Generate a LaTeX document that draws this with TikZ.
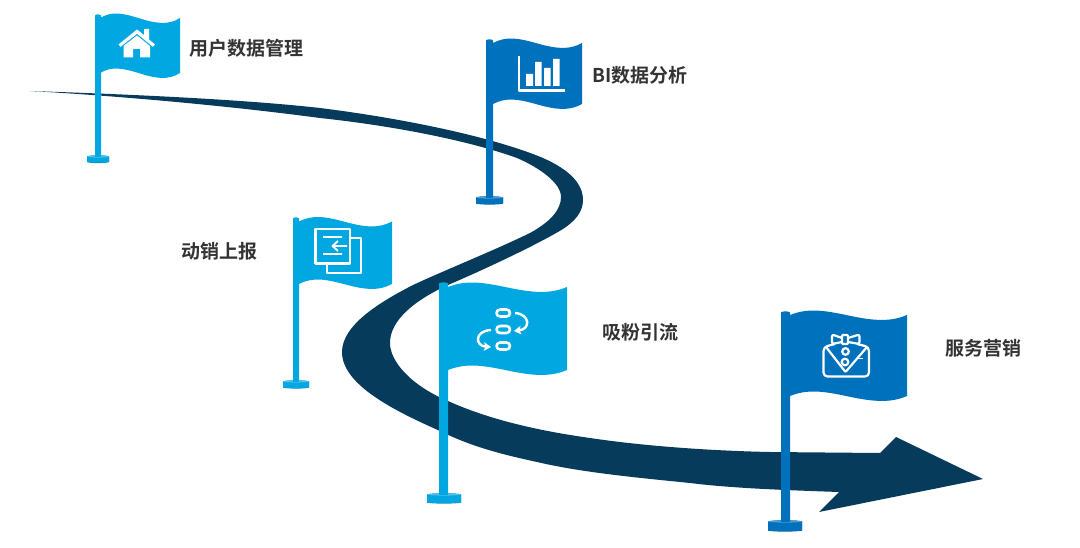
\documentclass[tikz,border=0pt]{standalone}
\usepackage{fontspec}
\setmainfont{Noto Sans CJK SC}[BoldFont={Noto Sans CJK SC Bold}]
\usetikzlibrary{arrows.meta}
\definecolor{road}{HTML}{073B5C}
\definecolor{lightblue}{HTML}{00A7E1}
\definecolor{darkblue}{HTML}{0071BC}
\definecolor{lab}{HTML}{333333}
\tikzset{
  lbl/.style={font=\fontsize{19}{19}\selectfont\bfseries,text=lab,inner sep=0pt,anchor=west},
  icon/.style={draw=white,line width=2.2pt,fill=none,line join=round},
  iconarrow/.style={draw=white,line width=2.4pt,-{Stealth[length=7pt,width=8.5pt,inset=1.5pt]}},
}
\newcommand{\flagbody}[5]{% x0,w,ytop,h,colour
  \begin{scope}[shift={(#1,#3)},xscale=#2/100]
    \fill[#5] (0,5) .. controls (15,-2) and (28,0) .. (50,5.5) .. controls (72,11) and (86,12) .. (100,5)
      -- (100,5+#4) .. controls (86,12+#4) and (72,11+#4) .. (50,5.5+#4) .. controls (28,0+#4) and (15,-2+#4) .. (0,5+#4) -- cycle;
  \end{scope}}
\newcommand{\flagpole}[8]{% xl,xr,ytop,ybot,basel,baser,colour,baseheight
  \fill[#7] (#1,#3+1.5) .. controls (#1,#3) and (#2,#3) .. (#2,#3+1.5) -- (#2,#4+1) -- (#1,#4+1) -- cycle;
  \fill[#7!85!black] (#5,#4+1.5) .. controls (#5+3,#4) and (#6-3,#4) .. (#6,#4+1.5) -- (#6,#4+#8-1.5) .. controls (#6-3,#4+#8) and (#5+3,#4+#8) .. (#5,#4+#8-1.5) -- cycle;
  \fill[#7] (#5,#4+1.5) .. controls (#5+3,#4) and (#6-3,#4) .. (#6,#4+1.5) -- (#6,#4+#8-1.5) .. controls (#6-3,#4+#8-1) and (#5+3,#4+#8-1) .. (#5,#4+#8-1.5) -- cycle;
  \fill[#7!70!white] (#5,#4+1.5) .. controls (#5+3,#4) and (#6-3,#4) .. (#6,#4+1.5) .. controls (#6-3,#4+3) and (#5+3,#4+3) .. (#5,#4+1.5) -- cycle;
  \fill[#7] (#1,#4-1) rectangle (#2,#4+2.3);}
\begin{document}
\begin{tikzpicture}[x=1pt,y=-1pt]
\useasboundingbox (0,0) rectangle (1080,548);
% road
\fill[road] (30,91)
  .. controls (120,94) and (240,99) .. (320,108)
  .. controls (400,118) and (490,136) .. (543,158)
  .. controls (570,170) and (583,184) .. (583,200)
  .. controls (583,212) and (575,221) .. (563,229)
  .. controls (540,243) and (490,267) .. (448,285)
  .. controls (415,300) and (390,320) .. (390,343)
  .. controls (390,361) and (410,385) .. (448,401)
  .. controls (490,420) and (540,431) .. (590,438)
  .. controls (650,447) and (720,451) .. (770,452)
  -- (880,453) -- (896,437) -- (983,479) -- (819,512) -- (839,492)
  .. controls (780,490) and (730,488) .. (690,483)
  .. controls (630,477) and (580,472) .. (537,462)
  .. controls (500,454) and (470,446) .. (440,431)
  .. controls (395,411) and (342,385) .. (342,352)
  .. controls (342,325) and (380,302) .. (413,285)
  .. controls (450,268) and (495,250) .. (530,233)
  .. controls (550,222) and (561,210) .. (561,197)
  .. controls (561,183) and (540,168) .. (517,158)
  .. controls (470,141) and (395,126) .. (320,118)
  .. controls (230,106) and (120,96) .. (30,91) -- cycle;
% flag 1
\flagbody{100}{80}{13}{55}{lightblue}
\flagpole{95}{101}{14}{155}{87}{109}{lightblue}{8.5}
\fill[white] (118.5,44.5) -- (137,29.5) -- (144,35) -- (144,29) -- (149,29) -- (149,39.5) -- (155,44.5) -- (153,46.8) -- (137,33.8) -- (120.5,46.8) -- cycle;
\fill[white] (123.5,46) -- (137,35.5) -- (150,46) -- (150,57.5) -- (140,57.5) -- (140,49) -- (133,49) -- (133,57.5) -- (123.5,57.5) -- cycle;
\node[lbl] (t1) at (189,48) {用户数据管理};
% flag 2
\flagbody{493}{89}{38}{61}{darkblue}
\flagpole{486}{493}{39}{196}{476}{503}{darkblue}{9}
\draw[icon] (519,56) -- (519,90.5) -- (565,90.5);
\fill[white] (526,74) rectangle (533,86) (535,62) rectangle (541.5,86) (544,68) rectangle (550.5,86) (553,59) rectangle (559.5,86);
\node[lbl] (t2) at (592,75) {BI数据分析};
% flag 3
\flagbody{299}{93}{216.5}{62.5}{lightblue}
\flagpole{293}{299}{217}{380}{283}{309}{lightblue}{9}
\draw[icon] (315.5,229) rectangle (350,263.5);
\draw[icon] (350,238) -- (361,238) -- (361,273) -- (327,273) -- (327,263.5);
\draw[icon,line width=1.9pt] (323,237) -- (342,237) (323,254) -- (342,254) (347,246) -- (333,246) (338,241) -- (332.5,246) -- (338,251);
\node[lbl] (t3) at (181,251) {动销上报};
% flag 4
\flagbody{448}{119}{282}{83}{lightblue}
\flagpole{439}{448}{282}{493}{427}{461}{lightblue}{11}
\draw[icon,line width=2.6pt,rounded corners=3.5pt] (496.5,309.5) rectangle (510,316.5) (496.5,326) rectangle (510,333) (496.5,342.5) rectangle (510,349.5);
\draw[iconarrow] (515,313) .. controls (530,314) and (531,329) .. (514,331);
\draw[iconarrow] (491,330) .. controls (474,331) and (475,346) .. (491,347);
\node[lbl] (t4) at (602,332) {吸粉引流};
% flag 5
\flagbody{790}{117}{310}{81}{darkblue}
\flagpole{781}{790}{311}{520}{768}{802}{darkblue}{12}
\draw[icon,rounded corners=2pt] (842,338) -- (832,334.5) -- (832,344) -- (842,342);
\draw[icon,rounded corners=2pt] (848,338) -- (859.5,334.5) -- (859.5,344) -- (848,342);
\draw[icon,rounded corners=1pt] (842,335) rectangle (848,344);
\draw[icon,rounded corners=4pt] (835,344) -- (823.5,347) -- (823.5,376.5) -- (869,376.5) -- (869,347) -- (857,344);
\draw[icon,rounded corners=1pt] (826,347) -- (845.5,372) -- (867,347);
\draw[icon] (845.5,351.5) circle (3.3);
\draw[icon] (845,362) circle (3.3);
\draw[icon,line width=1.5pt] (858,358.5) -- (863,358.5);
\node[lbl] (t5) at (945,348) {服务营销};
\end{tikzpicture}
\end{document}
